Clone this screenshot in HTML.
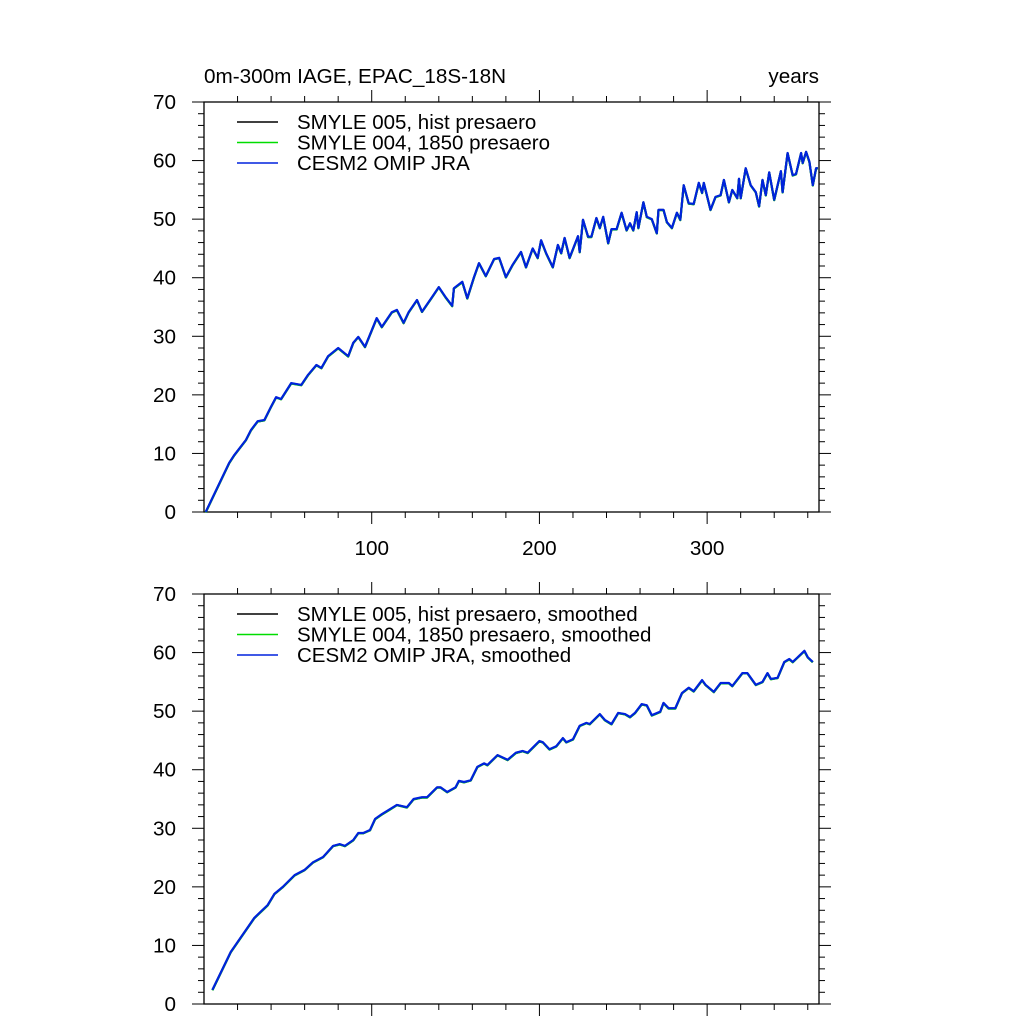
<!DOCTYPE html>
<html><head><meta charset="utf-8"><style>
html,body{margin:0;padding:0;background:#fff;}
svg{display:block;font-family:"Liberation Sans",sans-serif;}
</style></head><body>
<svg id="chart" width="1024" height="1024" viewBox="0 0 1024 1024">
<text x="204" y="83" font-size="20.7">0m-300m IAGE, EPAC_18S-18N</text>
<text x="819" y="83" font-size="20.7" text-anchor="end">years</text>
</svg>
<script>
const topYears=[1,15,18,25,28,32,36,40,43,46,52,58,62,67,70,74,80,86,89,92,96,100,103,106,112,115,119,122,127,130,136,140,144,148,149,154,157,161,164,168,173,176,180,184,189,192,196,199,201,204,208,211,213,215,218,223,224,226,229,231,234,236,238,241,243,246,249,252,254,256,258,259,262,264,267,270,271,274,276,279,282,284,286,289,292,295,297,298,302,305,308,310,313,315,318,319,320,323,326,329,331,333,335,337,340,344,345,348,351,353,356,357,359,361,363,365,366];
const topValues=[0,8.4,9.7,12.3,14,15.5,15.7,18,19.6,19.3,22,21.7,23.4,25.1,24.6,26.6,28,26.6,28.9,29.9,28.2,31,33.1,31.6,34.1,34.5,32.3,34.1,36.2,34.2,36.7,38.4,36.7,35.2,38.2,39.3,36.5,40.1,42.5,40.3,43.2,43.4,40.1,42.2,44.4,41.8,45,43.4,46.4,44.2,41.8,45.6,44.2,46.8,43.4,47.1,44.4,49.9,47,47,50.2,48.5,50.4,45.9,48.3,48.3,51.1,48.1,49.3,48.1,51.2,48.5,52.9,50.4,50,47.6,51.6,51.6,49.5,48.5,51.1,49.9,55.8,52.7,52.6,56.2,54.5,56.2,51.6,53.8,54.1,56.7,52.9,55,53.6,56.9,53.6,58.7,55.8,54.6,52.2,56.7,54.1,58,53.3,58.2,54.6,61.3,57.5,57.7,61.3,59.6,61.5,59.8,55.8,58.7,58.7];
const botYears=[5,16,30,38,42,47,54,60,65,71,77,81,84,89,92,95,99,102,106,110,115,121,125,130,133,139,141,145,150,152,155,159,163,167,169,175,181,186,190,193,200,202,206,210,214,216,220,224,228,230,236,239,243,247,251,254,257,261,264,267,272,274,277,281,285,289,292,297,299,304,308,313,315,321,324,329,333,336,338,342,346,349,351,354,358,360,363];
const botValues=[2.4,8.9,14.7,16.9,18.8,20,22,22.9,24.2,25.1,27,27.3,27,28,29.2,29.2,29.7,31.6,32.4,33.1,34,33.6,35,35.3,35.3,37,37,36.2,37,38.1,37.9,38.2,40.5,41.1,40.8,42.5,41.7,42.9,43.2,42.9,44.9,44.7,43.5,44,45.4,44.7,45.2,47.5,48,47.8,49.5,48.5,47.8,49.7,49.5,49,49.7,51.2,51,49.3,49.9,51.4,50.5,50.5,53.1,54,53.4,55.3,54.5,53.3,54.8,54.8,54.3,56.5,56.5,54.5,55,56.5,55.5,55.7,58.4,58.9,58.4,59.2,60.3,59.2,58.4];
const yTicks=[0,10,20,30,40,50,60,70];
const xTicks=[100,200,300];
const topLegend=["SMYLE 005, hist presaero","SMYLE 004, 1850 presaero","CESM2 OMIP JRA"];
const botLegend=["SMYLE 005, hist presaero, smoothed","SMYLE 004, 1850 presaero, smoothed","CESM2 OMIP JRA, smoothed"];
const colors=["#000000","#00dd00","#0022dd"];
const NS="http://www.w3.org/2000/svg";
const svg=document.getElementById('chart');
const L=204,R=819,XMAX=366.7,YMAX=70;
function mk(t,a){const e=document.createElementNS(NS,t);for(const k in a)e.setAttribute(k,a[k]);svg.appendChild(e);return e;}
function panel(top,bottom,years,vals,legend,showXLabels,pname){
  const sx=v=>L+(v/XMAX)*(R-L);
  const sy=v=>bottom-(v/YMAX)*(bottom-top);
  const frame=mk('rect',{x:L,y:top,width:R-L,height:bottom-top,fill:'none',stroke:'#000','stroke-width':1.3});
  
  
  for(let v=0;v<=YMAX;v+=2){
    const maj=v%10===0,len=maj?12:6,y=sy(v);
    const t1=mk('line',{x1:L-len,x2:L,y1:y,y2:y,stroke:'#000','stroke-width':1});
    
    
    const t2=mk('line',{x1:R,x2:R+len,y1:y,y2:y,stroke:'#000','stroke-width':1});
    
    
  }
  yTicks.forEach(v=>{
    const t=mk('text',{x:176,y:sy(v)+7,'font-size':20.7,'text-anchor':'end'});t.textContent=v;
    
    
  });
  for(let v=20;v<XMAX;v+=20){
    const maj=v%100===0,len=maj?12:6,x=sx(v);
    const a=mk('line',{x1:x,x2:x,y1:bottom,y2:bottom+len,stroke:'#000','stroke-width':1});
    
    
    const b=mk('line',{x1:x,x2:x,y1:top-len,y2:top,stroke:'#000','stroke-width':1});
    
    
  }
  if(showXLabels) xTicks.forEach(v=>{
    const t=mk('text',{x:sx(v),y:bottom+43,'font-size':20.7,'text-anchor':'middle'});t.textContent=v;
    
    
  });
  const offs=[0.25,0.35,0];
  colors.forEach((c,i)=>{
    const d=years.map((yr,j)=>(j?'L':'M')+sx(yr).toFixed(1)+','+(sy(vals[j])+offs[i]).toFixed(1)).join(' ');
    const p=mk('path',{d:d,fill:'none',stroke:c,'stroke-width':2.2,'stroke-linejoin':'round'});
    
    
  });
  legend.forEach((s,i)=>{
    const y=top+20+i*20.5;
    const l=mk('line',{x1:237,x2:278,y1:y,y2:y,stroke:colors[i],'stroke-width':1.5});
    
    
    const t=mk('text',{x:297,y:y+7,'font-size':20.5});t.textContent=s;
    
    
  });
}
panel(102,512,topYears,topValues,topLegend,true,'top-panel');
panel(594,1004,botYears,botValues,botLegend,false,'bottom-panel');
</script>
</body></html>
